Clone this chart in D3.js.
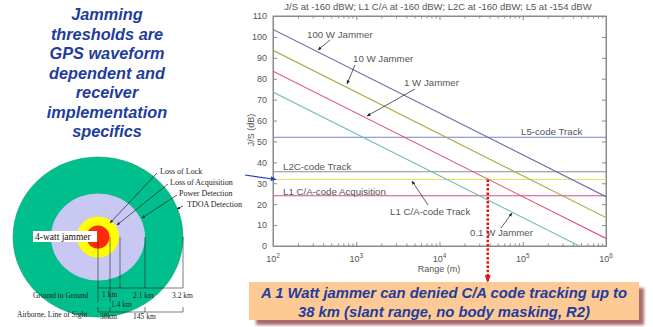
<!DOCTYPE html>
<html>
<head>
<meta charset="utf-8">
<script src="https://cdn.jsdelivr.net/npm/d3@7"></script>
<style>
  body { margin: 0; background: #fff; }
  svg { display: block; }
  .axis path, .axis line { stroke: #8a8a8a; }
  .axis text { fill: #555; font-family: "Liberation Sans", Arial, sans-serif; font-size: 9px; }
</style>
</head>
<body>
<div id="vis"></div>
<script>
// jamming thresholds slide: J/S vs range chart + ring diagram

const jammerNames = ['100 W Jammer', '10 W Jammer', '1 W Jammer', '0.1 W Jammer']
const rangeEnds = [1e2, 1e6]
const jsAtStart = [103.6, 93.6, 83.6, 73.6]
const jsAtEnd = [23.6, 13.6, 3.6, -6.4]
const jammerColors = ['#6b6ba8', '#a3ad45', '#e24d6c', '#7cbcb6']

const thresholdNames = ['L5-code Track', 'L2C-code Track', 'L1 C/A-code Track', 'L1 C/A-code Acquisition']
const thresholdValues = [52, 35.5, 31.8, 24]
const thresholdColors = ['#7583d2', '#8c8c8c', '#e6e65a', '#d0508e']

const yTicks = [0, 10, 20, 30, 40, 50, 60, 70, 80, 90, 100, 110]
const xTicks = [1e2, 1e3, 1e4, 1e5, 1e6]
const xTickExp = ['2', '3', '4', '5', '6']
const markerRange = 38000

const titleLines = ['Jamming', 'thresholds are', 'GPS waveform', 'dependent and', 'receiver', 'implementation', 'specifics']
const ringNames = ['Loss of Lock', 'Loss of Acquisition', 'Power Detection', 'TDOA Detection']
const groundLabels = ['1 km', '1.4 km', '2.1 km', '3.2 km']
const airLabels = ['38km', '145 km']
const boxLines = ['A 1 Watt jammer can denied C/A code tracking up to', '38 km (slant range, no body masking, R2)']

const W = 653, H = 327
const svg = d3.select('#vis').append('svg').attr('width', W).attr('height', H)

const defs = svg.append('defs')
defs.append('clipPath').attr('id', 'plotclip')
  .append('rect').attr('x', 273).attr('y', 16).attr('width', 333).attr('height', 230)
const mk = (id, color, size) => {
  defs.append('marker').attr('id', id)
    .attr('viewBox', '0 0 10 10').attr('refX', 9).attr('refY', 5)
    .attr('markerWidth', size).attr('markerHeight', size).attr('orient', 'auto')
    .append('path').attr('d', 'M0,1 L10,5 L0,9 z').attr('fill', color)
}
mk('arrBlack', '#222', 5)
mk('arrBlue', '#1d3fc0', 5)
mk('arrRed', '#e01414', 3)
defs.append('filter').attr('id', 'blur').append('feGaussianBlur').attr('stdDeviation', 1.5)

// ---- left title
const blue = '#1f3d9c'
svg.append('g').selectAll('text').data(titleLines).join('text')
  .attr('x', 107).attr('y', (d, i) => 20 + i * 19.5)
  .attr('text-anchor', 'middle')
  .style('font-family', '"Liberation Sans", Arial, sans-serif')
  .style('font-weight', 'bold').style('font-style', 'italic')
  .style('font-size', '16.3px').attr('fill', blue)
  .text(d => d)

// ---- ring diagram
const rings = svg.append('g').attr('class', 'rings')
const cx = 98, cy = 237
const ringR = [[85, 80], [47, 43.5], [21, 20.5], [11.5, 11.5]]
const ringFill = ['#00bf8c', '#c9c8f2', '#ffff00', '#ff2a0a']
rings.selectAll('ellipse').data(ringR).join('ellipse')
  .attr('cx', cx).attr('cy', cy)
  .attr('rx', d => d[0]).attr('ry', d => d[1])
  .attr('fill', (d, i) => ringFill[i])
  .attr('stroke', (d, i) => i === 0 ? '#0a9a70' : 'none').attr('stroke-width', 0.6)

const serif = '"Liberation Serif", "Times New Roman", serif'
// leader lines
const leaders = [[157, 173, 110, 223], [168, 184, 117, 225], [177, 195, 142, 218], [183, 206, 177, 209]]
rings.selectAll('line.lead').data(leaders).join('line').attr('class', 'lead')
  .attr('x1', d => d[0]).attr('y1', d => d[1]).attr('x2', d => d[2]).attr('y2', d => d[3])
  .attr('stroke', '#222').attr('stroke-width', 0.7).attr('marker-end', 'url(#arrBlack)')
rings.selectAll('text.ring').data(ringNames).join('text').attr('class', 'ring')
  .attr('x', (d, i) => [160, 170, 179, 187][i]).attr('y', (d, i) => [174, 185, 196, 207][i])
  .style('font-family', serif).style('font-size', '8px').attr('fill', '#222')
  .text(d => d)

// verticals dropping from ring edges
const dropX = [98, 110, 120, 145, 183]
rings.selectAll('line.drop').data(dropX).join('line').attr('class', 'drop')
  .attr('x1', d => d).attr('x2', d => d)
  .attr('y1', (d, i) => i === 0 ? 242 : cy).attr('y2', (d, i) => i < 2 ? 302 : 288)
  .attr('stroke', '#222').attr('stroke-width', 0.6)
rings.append('line').attr('x1', 98).attr('x2', 183).attr('y1', 288).attr('y2', 288)
  .attr('stroke', '#222').attr('stroke-width', 0.6)
rings.append('line').attr('x1', 98).attr('x2', 183).attr('y1', 312).attr('y2', 312)
  .attr('stroke', '#222').attr('stroke-width', 0.6)
rings.selectAll('line.atick').data([98, 110, 145, 183]).join('line').attr('class', 'atick')
  .attr('x1', d => d).attr('x2', d => d).attr('y1', 307).attr('y2', 312)
  .attr('stroke', '#222').attr('stroke-width', 0.6)

// jammer label box
rings.append('rect').attr('x', 33).attr('y', 231).attr('width', 64).attr('height', 11).attr('fill', '#fff')
rings.append('text').attr('x', 35).attr('y', 240)
  .style('font-family', serif).style('font-size', '9.5px').attr('fill', '#111').text('4-watt jammer')

const smallSerif = (x, y, t) => rings.append('text').attr('x', x).attr('y', y)
  .style('font-family', serif).style('font-size', '7.5px').attr('fill', '#222').text(t)
smallSerif(33, 298, 'Ground to Ground')
smallSerif(17, 317, 'Airborne, Line of Sight')
;[[102, 297], [111, 307], [133, 298], [172, 298]].forEach((p, i) => smallSerif(p[0], p[1], groundLabels[i]))
;[[100, 319], [133, 319]].forEach((p, i) => smallSerif(p[0], p[1], airLabels[i]))

// ---- J/S chart
const x = d3.scaleLog().domain([1e2, 1e6]).range([273, 606])
const y = d3.scaleLinear().domain([0, 110]).range([246, 16])
const chart = svg.append('g').attr('class', 'chart')
const font = '"Liberation Sans", Arial, sans-serif'

chart.append('rect').attr('x', 273).attr('y', 16).attr('width', 333).attr('height', 230)
  .attr('fill', 'none').attr('stroke', '#8a8a8a')

const minor = []
for (let e = 2; e < 6; e++) for (let m = 2; m < 10; m++) minor.push(m * Math.pow(10, e))

chart.append('g').attr('class', 'axis').attr('transform', 'translate(0,246)')
  .call(d3.axisBottom(x).tickValues(xTicks).tickSize(-4).tickFormat(''))
chart.append('g').attr('class', 'axis').attr('transform', 'translate(0,246)')
  .call(d3.axisBottom(x).tickValues(minor).tickSize(-2.5).tickFormat(''))
chart.append('g').attr('class', 'axis').attr('transform', 'translate(0,16)')
  .call(d3.axisTop(x).tickValues(xTicks).tickSize(-4).tickFormat(''))
chart.append('g').attr('class', 'axis').attr('transform', 'translate(0,16)')
  .call(d3.axisTop(x).tickValues(minor).tickSize(-2.5).tickFormat(''))
chart.append('g').attr('class', 'axis').attr('transform', 'translate(273,0)')
  .call(d3.axisLeft(y).tickValues(yTicks).tickSize(-4).tickPadding(6))
chart.append('g').attr('class', 'axis').attr('transform', 'translate(606,0)')
  .call(d3.axisRight(y).tickValues(yTicks).tickSize(-4).tickFormat(''))

// x tick labels with superscripts
const xl = chart.selectAll('text.xl').data(xTicks).join('text').attr('class', 'xl')
  .attr('x', d => x(d)).attr('y', 262).attr('text-anchor', 'middle')
  .style('font-family', font).style('font-size', '9px').attr('fill', '#555')
xl.append('tspan').text('10')
xl.append('tspan').attr('dy', -4).style('font-size', '6.5px').text((d, i) => xTickExp[i])

chart.append('text').attr('x', 439).attr('y', 272).attr('text-anchor', 'middle')
  .style('font-family', font).style('font-size', '9px').attr('fill', '#555').text('Range (m)')
chart.append('text').attr('transform', 'translate(254,130) rotate(-90)').attr('text-anchor', 'middle')
  .style('font-family', font).style('font-size', '9px').attr('fill', '#555').text('J/S (dB)')
chart.append('text').attr('x', 438).attr('y', 10).attr('text-anchor', 'middle')
  .style('font-family', font).style('font-size', '9.5px').attr('fill', '#555')
  .text('J/S at -160 dBW; L1 C/A at -160 dBW; L2C at -160 dBW; L5 at -154 dBW')

const plot = chart.append('g').attr('clip-path', 'url(#plotclip)')
plot.selectAll('line.th').data(thresholdValues).join('line').attr('class', 'th')
  .attr('x1', x(rangeEnds[0])).attr('x2', x(rangeEnds[1]))
  .attr('y1', d => y(d)).attr('y2', d => y(d))
  .attr('stroke', (d, i) => thresholdColors[i]).attr('stroke-width', 1.1)
plot.selectAll('line.jam').data(jammerNames).join('line').attr('class', 'jam')
  .attr('x1', x(rangeEnds[0])).attr('x2', x(rangeEnds[1]))
  .attr('y1', (d, i) => y(jsAtStart[i])).attr('y2', (d, i) => y(jsAtEnd[i]))
  .attr('stroke', (d, i) => jammerColors[i]).attr('stroke-width', 1.1)

const lab = (px, py, t, anchor) => chart.append('text').attr('x', px).attr('y', py)
  .attr('text-anchor', anchor || 'start')
  .style('font-family', font).style('font-size', '9.7px').attr('fill', '#555').text(t)
lab(307, 38, jammerNames[0])
lab(353, 62, jammerNames[1])
lab(404, 86, jammerNames[2])
lab(470, 236, jammerNames[3])
lab(521, 135, thresholdNames[0])
lab(283, 170, thresholdNames[1])
lab(390, 215, thresholdNames[2])
lab(283, 195, thresholdNames[3])

const notes = [[330, 40, 318, 50], [355, 65, 347, 84], [415, 89, 367, 116], [428, 205, 412, 181], [501, 228, 512, 213]]
chart.selectAll('line.note').data(notes).join('line').attr('class', 'note')
  .attr('x1', d => d[0]).attr('y1', d => d[1]).attr('x2', d => d[2]).attr('y2', d => d[3])
  .attr('stroke', '#333').attr('stroke-width', 0.8).attr('marker-end', 'url(#arrBlack)')

// blue pointer onto the C/A track threshold
chart.append('line').attr('x1', 245).attr('y1', 175).attr('x2', 276).attr('y2', y(thresholdValues[2]))
  .attr('stroke', '#1d3fc0').attr('stroke-width', 1.2).attr('marker-end', 'url(#arrBlue)')

// ---- callout box
svg.append('rect').attr('x', 256).attr('y', 288).attr('width', 388).attr('height', 37)
  .attr('fill', '#a86a6a').attr('filter', 'url(#blur)')
svg.append('rect').attr('x', 249).attr('y', 282).attr('width', 390).attr('height', 38)
  .attr('fill', '#fdc995')
svg.selectAll('text.box').data(boxLines).join('text').attr('class', 'box')
  .attr('x', 444).attr('y', (d, i) => 298 + i * 19).attr('text-anchor', 'middle')
  .style('font-family', font).style('font-weight', 'bold').style('font-style', 'italic')
  .style('font-size', '14.8px').attr('fill', blue).text(d => d)

// red dotted marker at 38 km
svg.append('line').attr('x1', x(markerRange)).attr('x2', x(markerRange))
  .attr('y1', y(thresholdValues[2])).attr('y2', 282)
  .attr('stroke', '#e01414').attr('stroke-width', 2.5).attr('stroke-dasharray', '2.5,1.8')
  .attr('marker-end', 'url(#arrRed)')
</script>
</body>
</html>
